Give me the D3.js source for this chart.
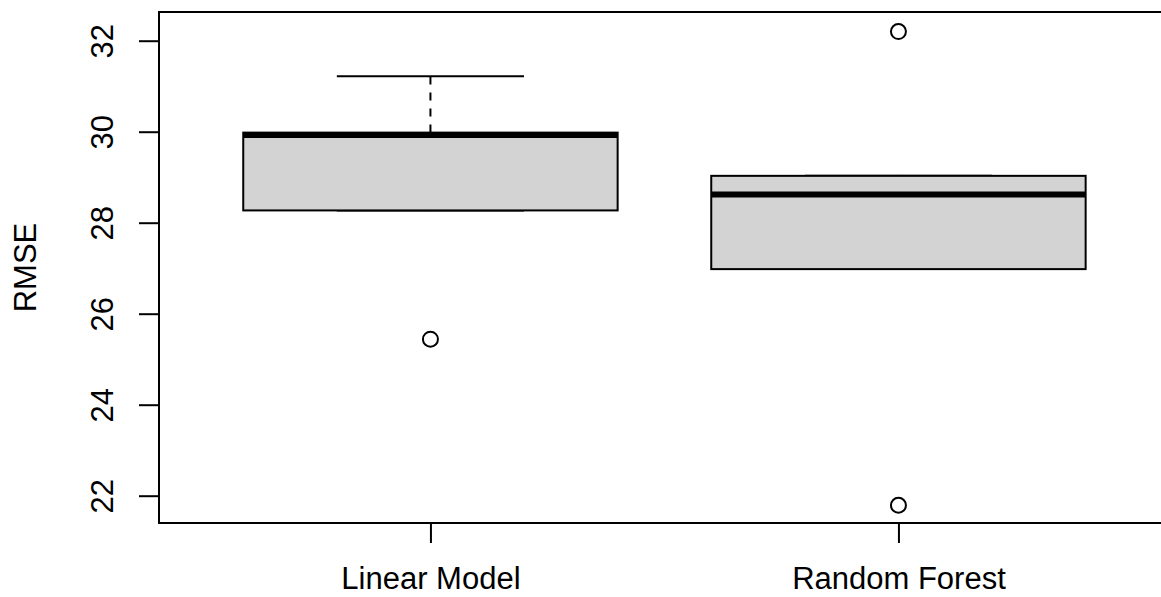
<!DOCTYPE html>
<html>
<head>
<meta charset="utf-8">
<script src="https://cdn.jsdelivr.net/npm/d3@7"></script>
<style>
  body { margin: 0; background: #fff; }
  svg { display: block; font-family: "Liberation Sans", Arial, sans-serif; }
</style>
</head>
<body>
<svg id="board" width="1161" height="597"></svg>
<script>
// data
var categories = ["Linear Model", "Random Forest"];
var lowerWhisker = [28.27, 26.98];
var q1 = [28.27, 26.98];
var median = [29.93, 28.62];
var q3 = [29.98, 29.03];
var upperWhisker = [31.22, 29.03];
var outliers = [[25.44], [32.20, 21.79]];
var yTicks = [22, 24, 26, 28, 30, 32];

var svg = d3.select("#board");
var plotLeft = 159, plotTop = 12, plotBottom = 523;

// R style: x from 0.42 to 2.58, box centres at 1 and 2
var x = d3.scaleLinear().domain([0.42, 2.58]).range([plotLeft, plotLeft + 2.16 * 468]);
var y = d3.scaleLinear().domain([21.4, 32.631]).range([plotBottom, plotTop]);

var boxHalf = x(1.4) - x(1);   // 0.8 wide box
var capHalf = x(1.2) - x(1);   // staple 0.4 wide

var g = svg.append("g");

categories.forEach(function(c, i) {
  var cx = x(i + 1);
  // whiskers (dashed)
  g.append("line").attr("x1", cx).attr("x2", cx).attr("y1", y(q3[i])).attr("y2", y(upperWhisker[i]))
    .attr("stroke", "black").attr("stroke-width", 2).attr("stroke-dasharray", "8,8");
  g.append("line").attr("x1", cx).attr("x2", cx).attr("y1", y(q1[i])).attr("y2", y(lowerWhisker[i]))
    .attr("stroke", "black").attr("stroke-width", 2).attr("stroke-dasharray", "8,8");
  // staples
  [upperWhisker[i], lowerWhisker[i]].forEach(function(v) {
    g.append("line").attr("x1", cx - capHalf).attr("x2", cx + capHalf).attr("y1", y(v)).attr("y2", y(v))
      .attr("stroke", "black").attr("stroke-width", 2);
  });
  // box
  g.append("rect").attr("x", cx - boxHalf).attr("y", y(q3[i]))
    .attr("width", 2 * boxHalf).attr("height", y(q1[i]) - y(q3[i]))
    .attr("fill", "#d3d3d3").attr("stroke", "black").attr("stroke-width", 2);
  // median
  g.append("line").attr("x1", cx - boxHalf).attr("x2", cx + boxHalf).attr("y1", y(median[i])).attr("y2", y(median[i]))
    .attr("stroke", "black").attr("stroke-width", 6);
  // outliers
  outliers[i].forEach(function(v) {
    g.append("circle").attr("cx", cx).attr("cy", y(v)).attr("r", 7.5)
      .attr("fill", "none").attr("stroke", "black").attr("stroke-width", 2);
  });
});

// frame (right side is off the page)
svg.append("path")
  .attr("d", "M" + x(2.58) + "," + plotTop + "H" + plotLeft + "V" + plotBottom + "H" + x(2.58))
  .attr("fill", "none").attr("stroke", "black").attr("stroke-width", 2);

// y axis
var yAxis = svg.append("g").attr("transform", "translate(" + plotLeft + ",0)")
  .call(d3.axisLeft(y).tickValues(yTicks).tickSize(20).tickFormat(d3.format("d")));
yAxis.select(".domain").remove();
yAxis.selectAll("line").attr("stroke-width", 2);
yAxis.selectAll("text")
  .attr("x", 0).attr("y", 0).attr("dy", 0)
  .attr("text-anchor", "middle")
  .attr("transform", "translate(-46,0) rotate(-90)")
  .style("font-size", "31px").style("font-family", "Liberation Sans, Arial, sans-serif").attr("fill", "black");

// x axis
var xAxis = svg.append("g").attr("transform", "translate(0," + plotBottom + ")")
  .call(d3.axisBottom(x).tickValues([1, 2]).tickSize(20).tickFormat(function(d) { return categories[d - 1]; }));
xAxis.select(".domain").remove();
xAxis.selectAll("line").attr("stroke-width", 2);
xAxis.selectAll("text")
  .attr("y", 66).attr("dy", 0)
  .style("font-size", "31px").style("font-family", "Liberation Sans, Arial, sans-serif").attr("fill", "black");

// y title
svg.append("text")
  .attr("transform", "translate(36," + ((plotTop + plotBottom) / 2) + ") rotate(-90)")
  .attr("text-anchor", "middle")
  .style("font-size", "31px")
  .text("RMSE");
</script>
</body>
</html>
